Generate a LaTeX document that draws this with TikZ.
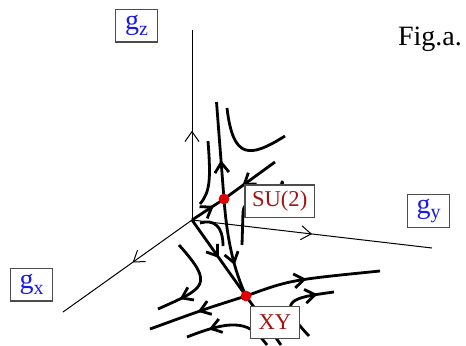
\documentclass[tikz,border=0pt]{standalone}
\usepackage{fontspec}
\setmainfont{Liberation Serif}
\usetikzlibrary{arrows.meta,decorations.markings}

\definecolor{labelblue}{RGB}{25,25,235}
\definecolor{labelred}{RGB}{160,20,20}
\definecolor{dotred}{RGB}{225,0,0}

\newcommand{\gsub}[1]{g\raisebox{-2.8pt}{\fontsize{10}{12}\selectfont #1}}

\tikzset{every picture/.style={line width=0.75pt}}
\tikzset{
  axis/.style={line width=0.5pt},
  flow/.style={line width=1.4pt},
  midarrow/.style={postaction={decorate,decoration={markings,
      mark=at position #1 with {\arrow{Straight Barb[length=5pt,width=7pt]}}}}},
  box/.style={draw=black!70, line width=0.6pt, fill=white, minimum height=16.4pt,
      inner sep=1pt, font=\fontsize{11.3}{13}\selectfont},
  gbox/.style={box, minimum width=21pt, text=labelblue, font=\fontsize{14}{16}\selectfont},
  fixpt/.style={circle, fill=dotred, inner sep=0pt, minimum size=5.4pt}
}

\begin{document}
\begin{tikzpicture}[x=0.5pt,y=-0.5pt]
        \useasboundingbox (0,0) rectangle (466,345);
        \coordinate (origin) at (192,220);
        \coordinate (su2) at (224,199);
        \coordinate (xy) at (246,296);
        % axes
        \draw[axis, midarrow=0.47] (origin) -- (192,30);
        \draw[axis, midarrow=0.5] (origin) -- (432,248);
        \draw[axis, midarrow=0.46] (origin) -- (63,312);
        % flow near SU(2)
        \draw[flow, midarrow=0.68] (origin) -- (su2);
        \draw[flow, midarrow=0.64] (275,162) -- (su2);
        \draw[flow, midarrow=0.4] (su2) -- (216.5,102);
        \draw[flow, midarrow=0.67] (su2) .. controls (227,240) and (234,270) .. (xy);
        \draw[flow] (227,108) .. controls (233,160) and (250,158) .. (285,136);
        \draw[flow] (208,141) .. controls (211,180) and (210,192) .. (200,204);
        \draw[flow] (281,181.5) .. controls (292,186) and (244,192) .. (243,212) -- (242,245);
        \draw[flow] (200,223) .. controls (214,219) and (223,226) .. (223,246);
        % flow near XY
        \draw[flow, midarrow=0.5] (origin) -- (xy);
        \draw[flow] (xy) -- (281,345);
        \draw[flow, midarrow=0.5] (xy) .. controls (205,309) .. (150,329);
        \draw[flow, midarrow=0.46] (xy) .. controls (290,280) .. (380,271);
        \draw[flow, midarrow=0.75] (179,245) .. controls (215,285) and (205,288) .. (158,309);
        \draw[flow, midarrow=0.74] (267,345) .. controls (250,322) and (235,318) .. (187,337);
        \draw[flow, midarrow=0.8] (309,336) .. controls (275,300) and (290,298) .. (334,292);
        % labels
        \node[gbox] (gz) at (136.5,25.5) {\gsub{z}};
        \node[gbox] (gy) at (428.5,211) {\gsub{y}};
        \node[gbox] (gx) at (31.5,284.5) {\gsub{x}};
        \node[box, minimum width=34.7pt, text=labelred] (su2lbl) at (279.7,201.3) {SU(2)};
        \node[box, minimum width=24.3pt, minimum height=15.8pt, text=labelred] (xylbl) at (275,322.5) {XY};
        \node[font=\fontsize{14}{16}\selectfont] (figlbl) at (430,39) {Fig.a.};
        % fixed points
        \node[fixpt] (su2dot) at (su2) {};
        \node[fixpt] (xydot) at (xy) {};
\end{tikzpicture}
\end{document}
